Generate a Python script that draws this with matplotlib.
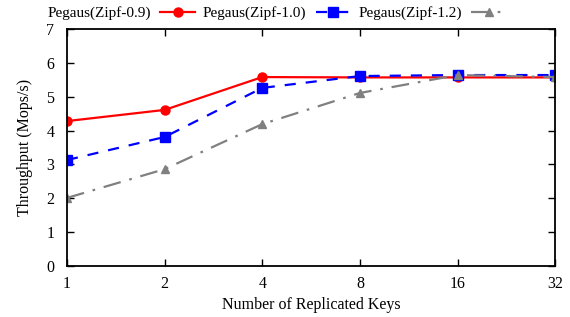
import numpy as np
import matplotlib
matplotlib.use("Agg")
import matplotlib.pyplot as plt

plt.rcParams['font.family'] = ['Liberation Serif', 'DejaVu Serif']
plt.rcParams['font.size'] = 11.5

keys = [1, 2, 4, 8, 16, 32]
zipf09 = [4.28, 4.61, 5.58, 5.57, 5.57, 5.57]
zipf10 = [3.13, 3.81, 5.26, 5.61, 5.64, 5.64]
zipf12 = [2.01, 2.86, 4.19, 5.11, 5.64, 5.58]
labels = ['Pegaus(Zipf-0.9)', 'Pegaus(Zipf-1.0)', 'Pegaus(Zipf-1.2)']

fig = plt.figure(figsize=(5.7, 3.17), dpi=100)
ax = fig.add_axes([0.1175, 0.161, 0.8565, 0.7475])

ax.plot(keys, zipf09, color='red', lw=1.6, marker='o', ms=6.5, label=labels[0])
ax.plot(keys, zipf10, color='blue', lw=1.6, ls=(0, (5, 4.5)), marker='s', ms=6.5, label=labels[1])
ax.plot(keys, zipf12, color='gray', lw=1.6, ls=(0, (8, 4, 1.2, 4)), marker='^', ms=6, label=labels[2])

ax.set_xscale('log', base=2)
ax.set_xlim(1, 32)
ax.set_xticks(keys)
ax.set_xticklabels([str(k) for k in keys])
ax.minorticks_off()
ax.set_ylim(0, 7)
ax.set_yticks(range(8))
ax.tick_params(direction='in', top=True, right=True, length=5, width=1)
ax.tick_params(axis='x', pad=7)
ax.tick_params(axis='y', pad=9)
for s in ax.spines.values():
    s.set_linewidth(1.3)

ax.set_xlabel('Number of Replicated Keys', labelpad=4)
ax.set_ylabel('Throughput (Mops/s)', labelpad=10)

ax.legend(loc='lower center', bbox_to_anchor=(0.43, 1.005), ncol=3, frameon=False,
          markerfirst=False, handlelength=2.3, columnspacing=0.5, handletextpad=0.6,
          borderaxespad=0.1, fontsize=11)

fig.savefig('out.png', dpi=100)
